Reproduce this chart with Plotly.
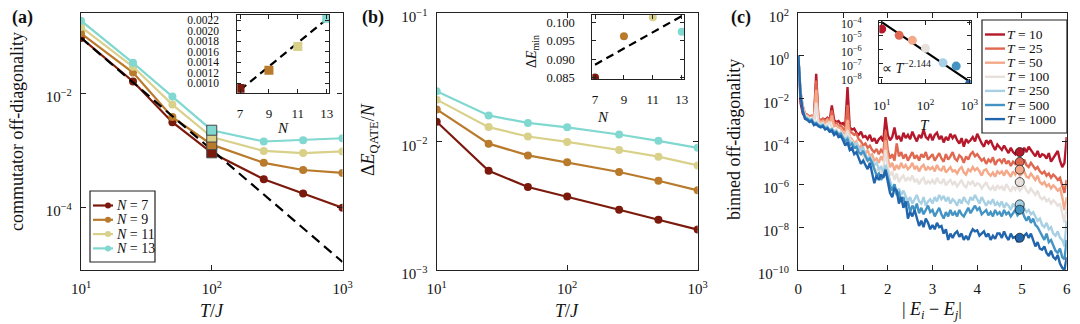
import plotly.graph_objects as go

FONT = "Liberation Serif, serif"
# page is 1080x324; the browser's body margin puts the figure 8 px in
PAD = 8
W, H = 1080 - PAD, 324 - PAD

# ---- shared categories ----
T_vals = [10, 25, 50, 100, 250, 500, 1000]
N_vals = [7, 9, 11, 13]
N_colors = ["#7b1a0c", "#b97a2c", "#d9d08a", "#80d8d0"]
T_colors = ["#b5172b", "#e06850", "#f4a98a", "#e7e0dc", "#a7d0e4", "#4393c3", "#2166ac"]

# ---- (a) commutator off-diagonality vs T/J ----
comm_N7 = [0.093, 0.016, 0.0031, 9.0e-4, 3.1e-4, 1.74e-4, 9.8e-5]
comm_N9 = [0.112, 0.023, 0.0038, 1.25e-3, 6.0e-4, 4.5e-4, 4.0e-4]
comm_N11 = [0.145, 0.029, 0.0063, 1.70e-3, 9.7e-4, 8.9e-4, 9.5e-4]
comm_N13 = [0.186, 0.034, 0.0087, 2.24e-3, 1.42e-3, 1.5e-3, 1.62e-3]
fit_a_T = [10, 1000]
fit_a_y = [0.093, 1.1e-5]
fit_a_inset_N = [7, 13]
fit_a_inset_y = [0.00087, 0.00222]

# ---- (b) energy gap vs T/J ----
gap_N7 = [0.0142, 0.0059, 0.00442, 0.00373, 0.00294, 0.00246, 0.00206]
gap_N9 = [0.0177, 0.0096, 0.00778, 0.00687, 0.00578, 0.00494, 0.00416]
gap_N11 = [0.0211, 0.0129, 0.0109, 0.0099, 0.00857, 0.0076, 0.0065]
gap_N13 = [0.0245, 0.0159, 0.0139, 0.01285, 0.0113, 0.0101, 0.0089]
dE_min = [0.085, 0.0963, 0.1015, 0.0975]
fit_b_N = [7, 13]
fit_b_y = [0.0885, 0.1018]

# ---- (c) binned off-diagonality vs |Ei - Ej| (log10 values) ----
dE = [round(0.05 * i, 2) for i in range(121)]
log_T10 = [
    0.0, -2.2, -2.7, -2.85, -2.8, -2.9, -2.85, -2.95, -0.85, -3.05,
    -3.1, -2.95, -3.0, -2.9, -3.05, -2.33, -3.0, -3.1, -3.05, -3.2,
    -3.15, -3.3, -1.47, -3.35, -3.45, -3.4, -3.6, -3.7, -3.55, -3.8,
    -3.75, -3.9, -3.7, -4.0, -3.85, -4.1, -3.9, -3.8, -4.0, -2.87,
    -3.7, -3.95, -3.8, -3.35, -3.9, -3.75, -4.0, -3.6, -3.85, -3.7,
    -3.9, -3.55, -3.8, -4.0, -3.7, -3.85, -3.45, -3.8, -3.9, -3.65,
    -3.95, -3.7, -3.6, -3.9, -3.75, -4.05, -3.8, -3.95, -3.65, -3.85,
    -3.7, -3.95, -4.1, -3.85, -4.25, -3.9, -4.05, -3.95, -3.8, -4.0,
    -3.65, -3.9, -4.1, -4.25, -3.95, -4.1, -3.95, -4.2, -4.4, -4.15,
    -4.3, -4.4, -4.2, -4.35, -4.55, -4.3, -4.5, -4.6, -4.4, -4.45,
    -4.55, -4.3, -4.5, -4.25, -4.4, -4.6, -4.7, -4.45, -4.75, -4.6,
    -4.65, -4.8, -4.55, -4.95, -4.8, -4.6, -4.45, -4.9, -5.2, -5.0, -3.8,
]
log_T25 = [
    0.0, -1.7, -2.35, -2.7, -2.75, -2.85, -2.8, -2.95, -1.16, -2.95,
    -3.0, -2.95, -3.05, -2.95, -3.1, -2.56, -3.2, -3.15, -3.3, -3.25,
    -3.4, -3.5, -2.3, -3.55, -3.6, -3.7, -3.65, -3.9, -4.0, -4.2,
    -4.1, -4.3, -4.2, -4.4, -4.5, -4.35, -4.6, -4.4, -4.55, -3.5,
    -4.4, -4.8, -4.6, -4.9, -4.1, -4.7, -4.5, -4.8, -4.6, -4.9,
    -4.7, -4.5, -4.8, -4.65, -4.9, -4.6, -4.75, -4.5, -4.85, -4.7,
    -4.6, -4.9, -4.7, -4.55, -4.8, -4.95, -4.6, -4.85, -4.7, -4.5,
    -4.8, -4.9, -4.65, -4.75, -5.0, -4.7, -4.85, -4.6, -4.5, -4.7,
    -4.6, -4.75, -4.9, -4.8, -5.05, -4.85, -4.95, -4.75, -5.1, -4.9,
    -4.85, -5.0, -4.8, -5.05, -4.9, -5.15, -4.95, -5.05, -4.9, -5.1,
    -5.0, -4.85, -5.1, -5.2, -5.0, -5.15, -5.3, -5.2, -5.4, -5.5,
    -5.4, -5.6, -5.5, -5.7, -5.55, -5.65, -5.8, -5.7, -6.1, -6.4, -5.8,
]
log_T50 = [
    0.0, -1.75, -2.4, -2.75, -2.8, -2.9, -2.85, -3.0, -1.6, -3.05,
    -3.1, -3.05, -3.15, -3.0, -3.2, -2.8, -3.3, -3.25, -3.35, -3.4,
    -3.6, -3.7, -3.0, -3.8, -3.9, -4.1, -4.0, -4.3, -4.2, -4.5,
    -4.6, -4.4, -4.7, -4.6, -4.9, -4.8, -5.0, -4.7, -4.9, -3.95,
    -4.8, -5.2, -5.0, -5.35, -5.1, -5.3, -5.0, -5.25, -5.1, -5.3,
    -5.2, -5.0, -5.3, -5.15, -5.4, -5.2, -5.1, -5.35, -5.2, -5.3,
    -5.2, -5.4, -5.1, -5.3, -5.35, -5.15, -5.45, -5.3, -5.2, -5.4,
    -5.35, -5.5, -5.3, -5.2, -5.45, -5.55, -5.3, -5.4, -5.2, -5.35,
    -5.25, -5.4, -5.6, -5.35, -5.3, -5.5, -5.6, -5.45, -5.65, -5.4,
    -5.5, -5.4, -5.6, -5.35, -5.5, -5.65, -5.4, -5.55, -5.35, -5.6,
    -5.5, -5.4, -5.65, -5.7, -5.5, -5.65, -5.8, -5.6, -5.9, -6.0,
    -5.9, -6.1, -6.0, -6.2, -6.05, -6.15, -6.3, -6.2, -6.6, -7.2, -6.6,
]
log_T100 = [
    0.0, -1.8, -2.45, -2.8, -2.85, -2.95, -2.9, -3.1, -2.2, -3.15,
    -3.2, -3.15, -3.3, -3.25, -3.1, -3.35, -3.5, -3.45, -3.6, -3.55,
    -3.7, -3.8, -3.5, -3.9, -4.0, -4.2, -4.1, -4.4, -4.5, -4.7,
    -4.9, -4.8, -5.1, -5.0, -5.3, -5.4, -5.2, -5.5, -5.3, -4.4,
    -5.2, -5.6, -5.4, -5.8, -5.5, -5.9, -5.7, -5.6, -5.85, -5.7,
    -5.8, -5.6, -5.9, -5.75, -6.0, -5.8, -5.7, -6.0, -5.85, -5.95,
    -5.8, -6.0, -5.7, -5.9, -5.95, -5.75, -6.05, -5.9, -5.8, -6.0,
    -5.9, -6.1, -5.95, -5.8, -6.05, -6.15, -5.9, -6.0, -5.85, -6.1,
    -5.95, -6.0, -6.2, -6.05, -5.9, -6.15, -6.25, -6.1, -6.3, -6.05,
    -6.2, -6.1, -6.3, -6.0, -6.2, -6.35, -6.1, -6.25, -6.05, -6.3,
    -6.2, -6.05, -6.3, -6.4, -6.2, -6.35, -6.5, -6.3, -6.6, -6.7,
    -6.6, -6.8, -6.7, -6.9, -6.75, -6.85, -7.0, -6.9, -7.4, -7.8, -7.05,
]
log_T250 = [
    0.0, -1.8, -2.5, -2.85, -2.9, -3.0, -2.95, -3.15, -3.1, -3.2,
    -3.25, -3.2, -3.35, -3.3, -3.45, -3.4, -3.55, -3.5, -3.65, -3.6,
    -3.8, -3.9, -3.8, -4.0, -4.05, -4.15, -4.1, -4.3, -4.4, -4.3,
    -4.6, -4.8, -4.7, -4.9, -5.1, -5.0, -5.3, -5.2, -5.4, -5.1,
    -5.5, -5.9, -6.2, -6.0, -6.4, -6.2, -6.5, -6.3, -6.6, -6.8,
    -6.6, -6.9, -6.7, -6.5, -6.8, -6.9, -6.6, -7.0, -6.8, -6.7,
    -6.9, -6.6, -6.8, -6.5, -6.7, -6.55, -6.8, -6.6, -6.9, -6.7,
    -6.8, -7.0, -6.7, -6.9, -6.6, -6.8, -6.9, -6.6, -6.75, -6.5,
    -6.7, -6.9, -6.6, -6.8, -7.0, -6.8, -6.9, -6.7, -7.0, -6.85,
    -7.0, -6.8, -7.1, -6.9, -7.0, -7.2, -6.9, -7.1, -7.0, -6.9,
    -6.9, -7.1, -7.3, -7.2, -7.4, -7.3, -7.5, -7.7, -7.6, -7.9,
    -8.0, -7.8, -8.1, -8.0, -8.3, -8.4, -8.2, -8.5, -8.6, -8.9, -7.7,
]
log_T500 = [
    0.0, -1.85, -2.55, -2.9, -2.95, -3.05, -3.0, -3.2, -3.15, -3.25,
    -3.3, -3.25, -3.4, -3.35, -3.5, -3.45, -3.6, -3.55, -3.7, -3.65,
    -3.85, -4.0, -3.9, -4.2, -4.1, -4.3, -4.25, -4.5, -4.6, -4.45,
    -4.7, -4.9, -4.8, -5.0, -5.3, -5.6, -5.5, -5.8, -5.6, -5.3,
    -5.7, -6.1, -6.3, -6.0, -6.5, -6.4, -6.8, -6.6, -7.0, -6.8,
    -7.3, -7.0, -7.2, -6.9, -7.35, -7.1, -7.4, -7.2, -7.0, -7.3,
    -7.2, -7.5, -7.3, -7.1, -7.4, -7.6, -7.3, -7.5, -7.2, -7.45,
    -7.3, -7.5, -7.2, -7.4, -7.5, -7.3, -7.1, -7.35, -7.2, -7.0,
    -7.2, -7.1, -7.4, -7.3, -7.2, -7.45, -7.3, -7.5, -7.2, -7.4,
    -7.3, -7.5, -7.2, -7.4, -7.3, -7.5, -7.35, -7.2, -7.45, -7.3,
    -7.2, -7.5, -7.7, -7.5, -7.8, -7.6, -7.9, -8.0, -8.2, -8.4,
    -8.6, -8.3, -8.7, -8.6, -8.9, -9.1, -9.2, -9.0, -9.4, -9.5, -8.6,
]
log_T1000 = [
    0.0, -1.9, -2.6, -2.95, -3.0, -3.1, -3.05, -3.25, -3.2, -3.3,
    -3.35, -3.3, -3.45, -3.4, -3.55, -3.5, -3.7, -3.6, -3.8, -3.75,
    -3.95, -4.2, -4.05, -4.4, -4.3, -4.6, -4.5, -4.8, -5.05, -4.9,
    -5.1, -5.3, -5.0, -5.5, -5.95, -5.6, -5.8, -5.55, -5.7, -5.35,
    -5.8, -6.4, -6.6, -6.2, -6.3, -6.9, -6.6, -7.1, -6.8, -7.6,
    -7.3, -7.5, -7.2, -7.6, -7.95, -7.7, -8.0, -7.6, -7.8, -8.1,
    -7.9, -8.1, -7.8, -8.0, -7.95, -8.3, -8.1, -8.6, -8.3, -8.5,
    -8.3, -8.2, -8.45, -8.3, -8.6, -8.4, -8.6, -8.3, -8.1, -8.2,
    -8.15, -8.4, -8.3, -8.2, -8.45, -8.3, -8.6, -8.4, -8.55, -8.3,
    -8.3, -8.5, -8.2, -8.45, -8.6, -8.3, -8.5, -8.45, -8.7, -8.5,
    -8.6, -8.4, -8.3, -8.5, -8.3, -8.6, -8.9, -8.7, -9.0, -9.05,
    -8.9, -9.2, -9.35, -9.1, -9.4, -9.5, -9.3, -9.7, -9.9, -10.0, -9.4,
]
mark_dE = 4.95
mark_vals = [3.16e-5, 1.1e-5, 4.8e-6, 1.26e-6, 1.15e-7, 6.5e-8, 3.2e-9]
fit_c_T = [10, 1000]
fit_c_y = [1.0e-4, 5.1e-9]


# layout helpers: arguments are page pixels
def px(x):
    return (x - PAD) / W


def py(y):
    return 1 - (y - PAD) / H


def xd(a, b):
    return [px(a), px(b)]


def yd(top, bottom):
    return [py(bottom), py(top)]


fig = go.Figure()

# (a) main
comm = [comm_N7, comm_N9, comm_N11, comm_N13]
for n, ys, col in zip(N_vals, comm, N_colors):
    fig.add_trace(go.Scatter(x=T_vals, y=ys, mode="lines+markers", xaxis="x", yaxis="y",
                             line=dict(color=col, width=2.2), marker=dict(size=8, color=col),
                             showlegend=False))
fig.add_trace(go.Scatter(x=fit_a_T, y=fit_a_y, mode="lines", xaxis="x", yaxis="y",
                         line=dict(color="black", width=2.2, dash="10px,6px"), showlegend=False))
fig.add_trace(go.Scatter(x=[100] * 4, y=[c[3] for c in comm], mode="markers", xaxis="x", yaxis="y",
                         marker=dict(symbol="square", size=10, color=N_colors,
                                     line=dict(color="#444", width=1)), showlegend=False))
# (a) inset
fig.add_trace(go.Scatter(x=fit_a_inset_N, y=fit_a_inset_y, mode="lines", xaxis="x4", yaxis="y4",
                         line=dict(color="black", width=2.2, dash="8px,5px"), showlegend=False))
fig.add_trace(go.Scatter(x=N_vals, y=[c[3] for c in comm], mode="markers", xaxis="x4", yaxis="y4",
                         marker=dict(symbol="square", size=9, color=N_colors), showlegend=False))

# (b) main
gaps = [gap_N7, gap_N9, gap_N11, gap_N13]
for n, ys, col in zip(N_vals, gaps, N_colors):
    fig.add_trace(go.Scatter(x=T_vals, y=ys, mode="lines+markers", xaxis="x2", yaxis="y2",
                             line=dict(color=col, width=2.2), marker=dict(size=8, color=col),
                             showlegend=False))
# (b) inset
fig.add_trace(go.Scatter(x=fit_b_N, y=fit_b_y, mode="lines", xaxis="x5", yaxis="y5",
                         line=dict(color="black", width=2.2, dash="8px,5px"), showlegend=False))
fig.add_trace(go.Scatter(x=N_vals, y=dE_min, mode="markers", xaxis="x5", yaxis="y5",
                         marker=dict(size=8, color=N_colors), showlegend=False))

# (c) main
curves = [log_T10, log_T25, log_T50, log_T100, log_T250, log_T500, log_T1000]
for t, lv, col in zip(T_vals, curves, T_colors):
    fig.add_trace(go.Scatter(x=dE, y=[10 ** v for v in lv], mode="lines", xaxis="x3", yaxis="y3",
                             line=dict(color=col, width=2.4), showlegend=False))
fig.add_trace(go.Scatter(x=[mark_dE] * 7, y=mark_vals, mode="markers", xaxis="x3", yaxis="y3",
                         marker=dict(size=9, color=T_colors, line=dict(color="#222", width=0.8)),
                         showlegend=False))
# (c) inset
fig.add_trace(go.Scatter(x=fit_c_T, y=fit_c_y, mode="lines", xaxis="x6", yaxis="y6",
                         line=dict(color="black", width=2.2), showlegend=False))
fig.add_trace(go.Scatter(x=T_vals, y=mark_vals, mode="markers", xaxis="x6", yaxis="y6",
                         marker=dict(size=9, color=T_colors), showlegend=False))

tick_main = dict(family=FONT, size=15, color="#111")
main_ax = dict(showline=True, linecolor="#222", linewidth=1.4, mirror="ticks", ticks="inside",
               ticklen=5, tickcolor="#222", showgrid=False, zeroline=False, tickfont=tick_main,
               automargin=False, ticklabeloverflow="allow")
ins_ax = dict(showline=True, linecolor="#222", linewidth=1.2, mirror="ticks", ticks="inside",
              ticklen=4, tickcolor="#222", showgrid=False, zeroline=False, automargin=False,
              ticklabeloverflow="allow", tickfont=dict(family=FONT, size=13, color="#111"))

logx = dict(type="log", range=[1, 3], tickvals=[10, 100, 1000],
            ticktext=["10<sup>1</sup>", "10<sup>2</sup>", "10<sup>3</sup>"], ticklabelstandoff=5)

fig.update_layout(
    width=W, height=H, margin=dict(l=0, r=0, t=0, b=0),
    paper_bgcolor="white", plot_bgcolor="rgba(0,0,0,0)",
    xaxis=dict(main_ax, **logx, domain=xd(81, 342.5), anchor="y"),
    yaxis=dict(main_ax, type="log", range=[-5.1, -0.59], domain=yd(12.7, 270), anchor="x",
               tickvals=[1e-2, 1e-4], ticktext=["10<sup>−2</sup>", "10<sup>−4</sup>"],
               ticklabelstandoff=5, ticklabelshift=4),
    xaxis2=dict(main_ax, **logx, domain=xd(436.7, 697.7), anchor="y2"),
    yaxis2=dict(main_ax, type="log", range=[-3, -1], domain=yd(12.7, 270), anchor="x2",
                tickvals=[1e-1, 1e-2, 1e-3],
                ticktext=["10<sup>−1</sup>", "10<sup>−2</sup>", "10<sup>−3</sup>"],
                ticklabelstandoff=5, ticklabelshift=4),
    xaxis3=dict(main_ax, range=[0, 6], domain=xd(798.3, 1066.7), anchor="y3",
                tickvals=[0, 1, 2, 3, 4, 5, 6], ticklabelstandoff=5),
    yaxis3=dict(main_ax, type="log", range=[-10, 2], domain=yd(12.7, 270), anchor="x3",
                tickvals=[1e2, 1, 1e-2, 1e-4, 1e-6, 1e-8, 1e-10],
                ticktext=["10<sup>2</sup>", "10<sup>0</sup>", "10<sup>−2</sup>", "10<sup>−4</sup>",
                          "10<sup>−6</sup>", "10<sup>−8</sup>", "10<sup>−10</sup>"],
                ticklabelstandoff=5, ticklabelshift=4),
    xaxis4=dict(ins_ax, range=[6.81, 13.18], domain=xd(237.3, 329.3), anchor="y4",
                tickvals=N_vals, ticklabelstandoff=9),
    yaxis4=dict(ins_ax, range=[0.00082, 0.0023], domain=yd(15, 92.7), anchor="x4",
                tickvals=[0.0010, 0.0012, 0.0014, 0.0016, 0.0018, 0.0020, 0.0022],
                tickformat=".4f", ticklabelstandoff=15,
                tickfont=dict(family=FONT, size=11.5, color="#111")),
    xaxis5=dict(ins_ax, range=[6.81, 13.18], domain=xd(592.3, 684.3), anchor="y5",
                tickvals=N_vals, ticklabelstandoff=8),
    yaxis5=dict(ins_ax, range=[0.0845, 0.1021], domain=yd(15, 79.3), anchor="x5",
                tickvals=[0.085, 0.090, 0.095, 0.100], tickformat=".3f", ticklabelstandoff=14,
                tickfont=dict(family=FONT, size=12.5, color="#111")),
    xaxis6=dict(ins_ax, type="log", range=[0.945, 3.03], domain=xd(879.3, 970.7), anchor="y6",
                tickvals=[10, 100, 1000],
                ticktext=["10<sup>1</sup>", "10<sup>2</sup>", "10<sup>3</sup>"],
                ticklabelstandoff=10),
    yaxis6=dict(ins_ax, type="log", range=[-8.43, -3.9], domain=yd(20.7, 83.3), anchor="x6",
                tickvals=[1e-4, 1e-5, 1e-6, 1e-7, 1e-8],
                ticktext=["10<sup>−4</sup>", "10<sup>−5</sup>", "10<sup>−6</sup>",
                          "10<sup>−7</sup>", "10<sup>−8</sup>"],
                ticklabelstandoff=14, ticklabelshift=2,
                tickfont=dict(family=FONT, size=12, color="#111")),
)


def label(text, x, y, size=14, angle=0, xanchor="center"):
    fig.add_annotation(text=text, x=px(x), y=py(y), xref="paper", yref="paper",
                       showarrow=False, textangle=angle, xanchor=xanchor, yanchor="middle",
                       font=dict(family=FONT, size=size, color="#111"))


# panel letters and axis titles
label("<b>(a)</b>", 22, 17, 18)
label("<b>(b)</b>", 373, 17, 18)
label("<b>(c)</b>", 741, 17, 18)
label("commutator off-diagonality", 17, 132, 18, -90)
label("Δ<i>E</i><sub>QATE</sub>/<i>N</i>", 369, 140, 18, -90)
label("binned off-diagonality", 734, 140, 18, -90)
label("<i>T</i>/<i>J</i>", 212, 311, 18)
label("<i>T</i>/<i>J</i>", 567, 311, 18)
label("| <i>E<sub>i</sub></i> − <i>E<sub>j</sub></i>|", 932, 310, 18)
label("<i>N</i>", 283, 128, 15)
label("<i>N</i>", 603, 117, 15)
label("Δ<i>E</i><sub>min</sub>", 533, 52, 14, -90)
label("<i>T</i>", 925, 125, 15)
label("∝ <i>T</i><sup>−2.144</sup>", 880, 67, 14, xanchor="left")

# legend (a)
fig.add_shape(type="rect", xref="paper", yref="paper", x0=px(90), x1=px(155), y0=py(262), y1=py(191),
              line=dict(color="#222", width=1.2), fillcolor="white")
for i, (n, col) in enumerate(zip(N_vals, N_colors)):
    yy = 205.5 + 14.3 * i
    fig.add_shape(type="line", xref="paper", yref="paper", x0=px(93), x1=px(113), y0=py(yy), y1=py(yy),
                  line=dict(color=col, width=2.2))
    fig.add_shape(type="circle", xref="paper", yref="paper", x0=px(105), x1=px(111),
                  y0=py(yy + 3), y1=py(yy - 3), line=dict(color=col, width=0), fillcolor=col)
    label(f"<i>N</i> = {n}", 114, yy, 14, xanchor="left")

# legend (c)
fig.add_shape(type="rect", xref="paper", yref="paper", x0=px(982), x1=px(1067), y0=py(133), y1=py(20),
              line=dict(color="#222", width=1.2), fillcolor="white")
for i, (t, col) in enumerate(zip(T_vals, T_colors)):
    yy = 34.5 + 14.1 * i
    fig.add_shape(type="line", xref="paper", yref="paper", x0=px(985), x1=px(1005), y0=py(yy), y1=py(yy),
                  line=dict(color=col, width=2.4))
    label(f"<i>T</i> = {t}", 1005, yy, 13.5, xanchor="left")

fig.write_html("out.html")
